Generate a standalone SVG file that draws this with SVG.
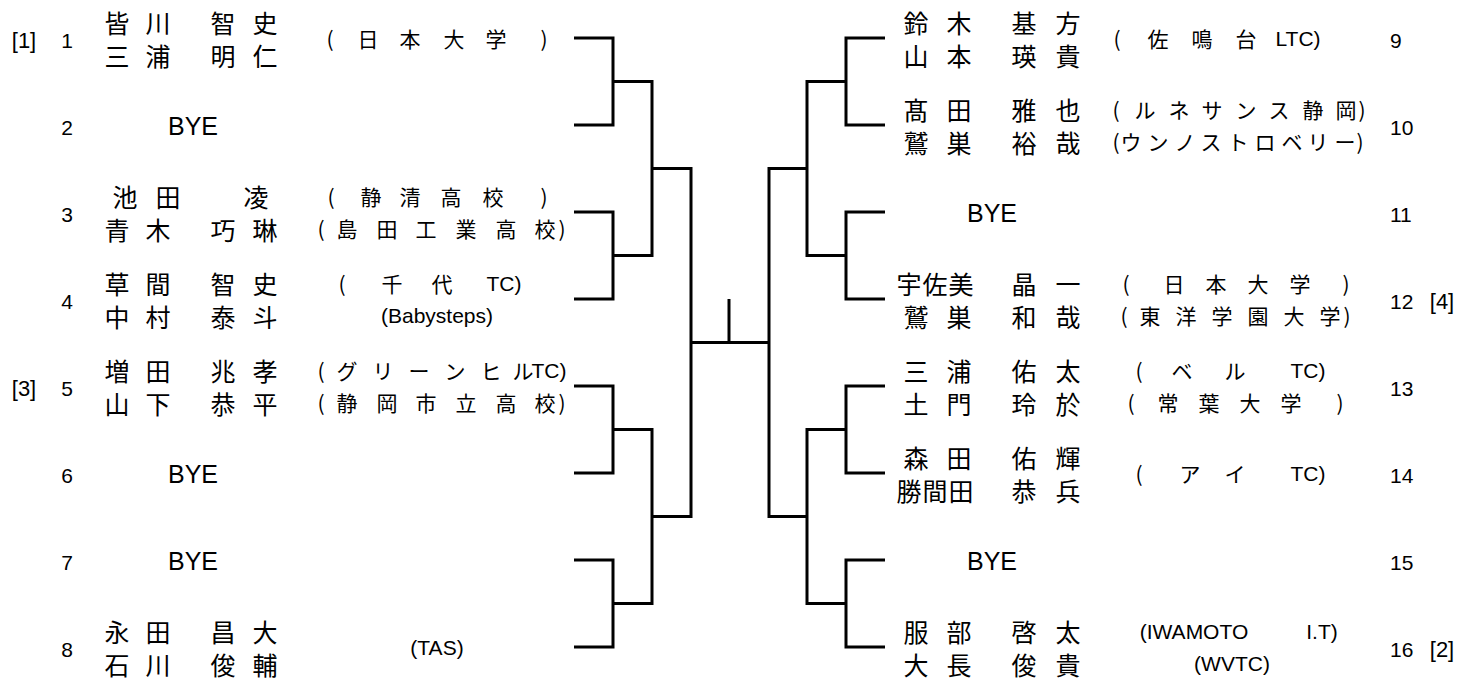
<svg xmlns="http://www.w3.org/2000/svg" width="1478" height="682" viewBox="0 0 1478 682">
<style>
  .bg { fill:#ffffff; }
  .ln { fill:none; stroke:#000; stroke-width:3; stroke-linejoin:miter; stroke-linecap:butt; }
  text { fill:#000; dominant-baseline:central; }
  .n { font-family:"Noto Sans CJK JP", sans-serif; font-size:25px; text-anchor:middle; }
  .o { font-family:"Noto Sans CJK JP", sans-serif; font-size:21px; text-anchor:middle; }
  .l { font-family:"Liberation Sans", "Noto Sans CJK JP", sans-serif; font-size:21px; }
  .num { font-family:"Liberation Sans", sans-serif; font-size:21px; }
  .ctr { text-anchor:middle; }
  .seed { font-family:"Liberation Sans", sans-serif; font-size:22px; text-anchor:middle; }
  .bye { font-family:"Liberation Sans", sans-serif; font-size:25px; text-anchor:middle; }
</style>
<rect class="bg" x="0" y="0" width="1478" height="682"/>

<g id="connectors">
  <path class="ln" d="M574 38H613V125H574"/>
  <path class="ln" d="M574 212H613V299H574"/>
  <path class="ln" d="M574 386H613V473H574"/>
  <path class="ln" d="M574 560H613V647H574"/>
  <path class="ln" d="M613 81.5H652V255.5H613"/>
  <path class="ln" d="M613 429.5H652V603.5H613"/>
  <path class="ln" d="M652 168.5H691V516.5H652"/>
  <path class="ln" d="M691 342.5H769"/>
  <path class="ln" d="M729 299V342.5"/>
  <path class="ln" d="M885 38H846V125H885"/>
  <path class="ln" d="M885 212H846V299H885"/>
  <path class="ln" d="M885 386H846V473H885"/>
  <path class="ln" d="M885 560H846V647H885"/>
  <path class="ln" d="M846 81.5H807V255.5H846"/>
  <path class="ln" d="M846 429.5H807V603.5H846"/>
  <path class="ln" d="M807 168.5H769V516.5H807"/>
</g>

<g id="entry1">
  <text class="seed" x="24" y="40">[1]</text>
  <text class="num ctr" x="67" y="40">1</text>
  <text class="n" x="117 158 190 223 265" y="21.5">皆川 智史</text>
  <text class="n" x="117 158 190 223 265" y="54.5">三浦 明仁</text>
  <text class="o" x="330 368 410 454 496 544" y="38">(日本大学)</text>
</g>
<g id="entry2">
  <text class="num ctr" x="67" y="127">2</text>
  <text class="bye" x="193" y="126">BYE</text>
</g>
<g id="entry3">
  <text class="num ctr" x="67" y="214">3</text>
  <text class="n" x="125 168 210 256" y="195.5">池田 凌</text>
  <text class="n" x="117 158 190 223 265" y="228.5">青木 巧琳</text>
  <text class="o" x="331 371 410 451 493 544" y="196">(静清高校)</text>
  <text class="o" x="321 347 387 426 466 506 545 562" y="228">(島田工業高校)</text>
</g>
<g id="entry4">
  <text class="num ctr" x="67" y="301">4</text>
  <text class="n" x="117 158 190 223 265" y="282.5">草間 智史</text>
  <text class="n" x="117 158 190 223 265" y="315.5">中村 泰斗</text>
  <text class="o" y="283"><tspan x="342 392 442">(千代</tspan><tspan class="l" x="504">TC)</tspan></text>
  <text class="num ctr" x="437" y="315">(Babysteps)</text>
</g>
<g id="entry5">
  <text class="seed" x="24" y="388">[3]</text>
  <text class="num ctr" x="67" y="388">5</text>
  <text class="n" x="117 158 190 223 265" y="369.5">増田 兆孝</text>
  <text class="n" x="117 158 190 223 265" y="402.5">山下 恭平</text>
  <text class="o" y="370"><tspan x="321 347 383 419 455 491 523">(グリーンヒル</tspan><tspan class="l" x="549">TC)</tspan></text>
  <text class="o" x="321 347 387 426 466 506 545 562" y="402">(静岡市立高校)</text>
</g>
<g id="entry6">
  <text class="num ctr" x="67" y="475">6</text>
  <text class="bye" x="193" y="474">BYE</text>
</g>
<g id="entry7">
  <text class="num ctr" x="67" y="562">7</text>
  <text class="bye" x="193" y="561">BYE</text>
</g>
<g id="entry8">
  <text class="num ctr" x="67" y="649">8</text>
  <text class="n" x="117 158 190 223 265" y="630.5">永田 昌大</text>
  <text class="n" x="117 158 190 223 265" y="663.5">石川 俊輔</text>
  <text class="num ctr" x="437" y="647">(TAS)</text>
</g>

<g id="entry9">
  <text class="n" x="916 959 992 1024 1068" y="21.5">鈴木 基方</text>
  <text class="n" x="916 959 992 1024 1068" y="54.5">山本 瑛貴</text>
  <text class="o" y="38"><tspan x="1117 1158 1202 1246">(佐鳴台</tspan><tspan class="l" x="1298">LTC)</tspan></text>
  <text class="num" x="1390" y="40">9</text>
</g>
<g id="entry10">
  <text class="n" x="916 959 992 1024 1068" y="108.5">髙田 雅也</text>
  <text class="n" x="916 959 992 1024 1068" y="141.5">鷲巣 裕哉</text>
  <text class="o" x="1116 1145 1179 1212 1246 1279 1313 1346 1362" y="109">(ルネサンス静岡)</text>
  <text class="o" x="1116 1131 1158 1185 1211 1238 1265 1292 1318 1345 1360" y="141">(ウンノストロベリー)</text>
  <text class="num" x="1390" y="127">10</text>
</g>
<g id="entry11">
  <text class="bye" x="992" y="213">BYE</text>
  <text class="num" x="1390" y="214">11</text>
</g>
<g id="entry12">
  <text class="n" x="909 935 961 992 1024 1068" y="282.5">宇佐美 晶一</text>
  <text class="n" x="916 959 992 1024 1068" y="315.5">鷲巣 和哉</text>
  <text class="o" x="1126 1174 1216 1258 1300 1346" y="283">(日本大学)</text>
  <text class="o" x="1124 1150 1186 1222 1258 1294 1330 1347" y="315">(東洋学園大学)</text>
  <text class="num" x="1390" y="301">12</text>
  <text class="seed" x="1442" y="301">[4]</text>
</g>
<g id="entry13">
  <text class="n" x="916 959 992 1024 1068" y="369.5">三浦 佑太</text>
  <text class="n" x="916 959 992 1024 1068" y="402.5">土門 玲於</text>
  <text class="o" y="370"><tspan x="1139 1182 1235">(ベル</tspan><tspan class="l" x="1308">TC)</tspan></text>
  <text class="o" x="1131 1168 1209 1250 1291 1340" y="402">(常葉大学)</text>
  <text class="num" x="1390" y="388">13</text>
</g>
<g id="entry14">
  <text class="n" x="916 959 992 1024 1068" y="456.5">森田 佑輝</text>
  <text class="n" x="909 935 961 992 1024 1068" y="489.5">勝間田 恭兵</text>
  <text class="o" y="473"><tspan x="1139 1190 1235">(アイ</tspan><tspan class="l" x="1308">TC)</tspan></text>
  <text class="num" x="1390" y="475">14</text>
</g>
<g id="entry15">
  <text class="bye" x="992" y="561">BYE</text>
  <text class="num" x="1390" y="562">15</text>
</g>
<g id="entry16">
  <text class="n" x="916 959 992 1024 1068" y="630.5">服部 啓太</text>
  <text class="n" x="916 959 992 1024 1068" y="663.5">大長 俊貴</text>
  <text class="num ctr" x="1194" y="631">(IWAMOTO</text>
  <text class="num ctr" x="1322" y="631">I.T)</text>
  <text class="num ctr" x="1232" y="663">(WVTC)</text>
  <text class="num" x="1390" y="649">16</text>
  <text class="seed" x="1442" y="649">[2]</text>
</g>
</svg>
